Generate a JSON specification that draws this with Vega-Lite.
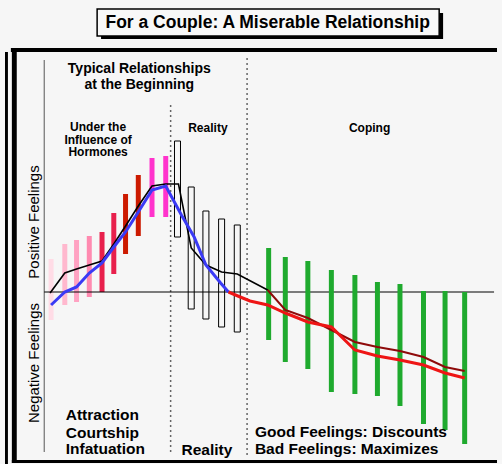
{
  "$schema": "https://vega.github.io/schema/vega-lite/v6.json",
  "width": 502,
  "height": 464,
  "autosize": "none",
  "padding": 0,
  "background": "#F6F6F6",
  "config": {"view": {"stroke": null}, "text": {"font": "Liberation Sans"}},
  "datasets": {
    "pinkBars": [
      {"t": 47, "v": 33, "v2": -28, "tone": "blush"},
      {"t": 61, "v": 48, "v2": -13, "tone": "pink"},
      {"t": 73, "v": 52, "v2": -10, "tone": "rose"},
      {"t": 86, "v": 56, "v2": -5, "tone": "salmon"},
      {"t": 99, "v": 60, "v2": 0, "tone": "crimson"},
      {"t": 111, "v": 79, "v2": 18, "tone": "crimson"},
      {"t": 123, "v": 98, "v2": 38, "tone": "scarlet"},
      {"t": 136, "v": 117, "v2": 56, "tone": "scarlet"},
      {"t": 150, "v": 134, "v2": 75, "tone": "magenta"},
      {"t": 164, "v": 136, "v2": 75, "tone": "magenta"}
    ],
    "realityBars": [
      {"t": 176, "v": 151, "v2": 55},
      {"t": 190, "v": 105, "v2": -17},
      {"t": 205, "v": 81, "v2": -27},
      {"t": 221, "v": 73, "v2": -35},
      {"t": 237, "v": 67, "v2": -40}
    ],
    "copingBars": [
      {"t": 269, "v": 44, "v2": -48},
      {"t": 286, "v": 35, "v2": -70},
      {"t": 309, "v": 31, "v2": -77},
      {"t": 333, "v": 22, "v2": -100},
      {"t": 357, "v": 17, "v2": -102},
      {"t": 380, "v": 10, "v2": -104},
      {"t": 403, "v": 8, "v2": -114},
      {"t": 427, "v": 1, "v2": -132},
      {"t": 449, "v": 1, "v2": -138},
      {"t": 469, "v": 0, "v2": -152}
    ],
    "curves": [
      {"series": "black", "t": 46, "v": -1},
      {"series": "black", "t": 61, "v": 19},
      {"series": "black", "t": 73, "v": 23},
      {"series": "black", "t": 86, "v": 27},
      {"series": "black", "t": 99, "v": 31},
      {"series": "black", "t": 111, "v": 48},
      {"series": "black", "t": 123, "v": 66},
      {"series": "black", "t": 136, "v": 86},
      {"series": "black", "t": 150, "v": 106},
      {"series": "black", "t": 164, "v": 108},
      {"series": "black", "t": 177, "v": 108},
      {"series": "black", "t": 190, "v": 44},
      {"series": "black", "t": 205, "v": 27},
      {"series": "black", "t": 221, "v": 20},
      {"series": "black", "t": 237, "v": 18},
      {"series": "black", "t": 268, "v": 2},
      {"series": "darkred", "t": 268, "v": 2},
      {"series": "darkred", "t": 286, "v": -18},
      {"series": "darkred", "t": 309, "v": -26},
      {"series": "darkred", "t": 333, "v": -38},
      {"series": "darkred", "t": 357, "v": -50},
      {"series": "darkred", "t": 380, "v": -55},
      {"series": "darkred", "t": 403, "v": -59},
      {"series": "darkred", "t": 427, "v": -65},
      {"series": "darkred", "t": 449, "v": -75},
      {"series": "darkred", "t": 469, "v": -79},
      {"series": "blue", "t": 47, "v": -13},
      {"series": "blue", "t": 61, "v": 0},
      {"series": "blue", "t": 73, "v": 5},
      {"series": "blue", "t": 86, "v": 19},
      {"series": "blue", "t": 99, "v": 29},
      {"series": "blue", "t": 111, "v": 45},
      {"series": "blue", "t": 123, "v": 60},
      {"series": "blue", "t": 136, "v": 80},
      {"series": "blue", "t": 150, "v": 102},
      {"series": "blue", "t": 164, "v": 106},
      {"series": "blue", "t": 180, "v": 77},
      {"series": "blue", "t": 193, "v": 55},
      {"series": "blue", "t": 205, "v": 27},
      {"series": "blue", "t": 220, "v": 9},
      {"series": "blue", "t": 228, "v": 0},
      {"series": "red", "t": 228, "v": 0},
      {"series": "red", "t": 240, "v": -5},
      {"series": "red", "t": 250, "v": -9},
      {"series": "red", "t": 268, "v": -13},
      {"series": "red", "t": 286, "v": -21},
      {"series": "red", "t": 309, "v": -30},
      {"series": "red", "t": 333, "v": -35},
      {"series": "red", "t": 357, "v": -58},
      {"series": "red", "t": 380, "v": -64},
      {"series": "red", "t": 403, "v": -68},
      {"series": "red", "t": 427, "v": -73},
      {"series": "red", "t": 449, "v": -81},
      {"series": "red", "t": 469, "v": -86}
    ],
    "labels": [
      {"group": "title", "t": 268, "v": 269.5, "label": "For a Couple: A Miserable Relationship"},
      {"group": "head", "t": 137, "v": 223, "label": "Typical Relationships"},
      {"group": "head", "t": 137, "v": 207, "label": "at the Beginning"},
      {"group": "phase", "t": 95, "v": 165, "label": "Under the"},
      {"group": "phase", "t": 95, "v": 152.5, "label": "Influence of"},
      {"group": "phase", "t": 95, "v": 140, "label": "Hormones"},
      {"group": "phase", "t": 207, "v": 164, "label": "Reality"},
      {"group": "phase", "t": 372, "v": 164, "label": "Coping"},
      {"group": "side", "t": 30, "v": 70, "label": "Positive Feelings"},
      {"group": "side", "t": 30, "v": -71, "label": "Negative Feelings"},
      {"group": "foot", "t": 62, "v": -123, "label": "Attraction"},
      {"group": "foot", "t": 62, "v": -141, "label": "Courtship"},
      {"group": "foot", "t": 62, "v": -157, "label": "Infatuation"},
      {"group": "foot", "t": 255, "v": -140, "label": "Good Feelings: Discounts"},
      {"group": "foot", "t": 255, "v": -157, "label": "Bad Feelings: Maximizes"},
      {"group": "footc", "t": 206, "v": -158, "label": "Reality"}
    ]
  },
  "layer": [
    {
      "data": {"values": [{}]},
      "mark": {"type": "rect", "fill": "black"},
      "encoding": {
        "x": {"datum": 98, "type": "quantitative", "scale": {"domain": [0, 502], "nice": false, "zero": false}, "axis": null},
        "x2": {"datum": 447},
        "y": {"datum": 279, "type": "quantitative", "scale": {"domain": [-172, 292], "nice": false, "zero": false}, "axis": null},
        "y2": {"datum": 253}
      }
    },
    {
      "data": {"values": [{}]},
      "mark": {"type": "rect", "fill": "#F8F8F8", "stroke": "black", "strokeWidth": 1.5},
      "encoding": {
        "x": {"datum": 94, "type": "quantitative", "scale": {"domain": [0, 502], "nice": false, "zero": false}, "axis": null},
        "x2": {"datum": 443},
        "y": {"datum": 283, "type": "quantitative", "scale": {"domain": [-172, 292], "nice": false, "zero": false}, "axis": null},
        "y2": {"datum": 256}
      }
    },
    {
      "data": {"values": [{}]},
      "mark": {"type": "rect", "fill": "black"},
      "encoding": {
        "x": {"datum": 6, "type": "quantitative", "scale": {"domain": [0, 502], "nice": false, "zero": false}, "axis": null},
        "x2": {"datum": 502},
        "y": {"datum": 244, "type": "quantitative", "scale": {"domain": [-172, 292], "nice": false, "zero": false}, "axis": null},
        "y2": {"datum": 240}
      }
    },
    {
      "data": {"values": [{}]},
      "mark": {"type": "rect", "fill": "black"},
      "encoding": {
        "x": {"datum": 7, "type": "quantitative", "scale": {"domain": [0, 502], "nice": false, "zero": false}, "axis": null},
        "x2": {"datum": 12},
        "y": {"datum": 244, "type": "quantitative", "scale": {"domain": [-172, 292], "nice": false, "zero": false}, "axis": null},
        "y2": {"datum": -171}
      }
    },
    {
      "data": {"values": [{}]},
      "mark": {"type": "rect", "fill": "black"},
      "encoding": {
        "x": {"datum": 7, "type": "quantitative", "scale": {"domain": [0, 502], "nice": false, "zero": false}, "axis": null},
        "x2": {"datum": 502},
        "y": {"datum": -168, "type": "quantitative", "scale": {"domain": [-172, 292], "nice": false, "zero": false}, "axis": null},
        "y2": {"datum": -171}
      }
    },
    {
      "data": {"values": [{}]},
      "mark": {"type": "rect", "fill": "black"},
      "encoding": {
        "x": {"datum": 0, "type": "quantitative", "scale": {"domain": [0, 502], "nice": false, "zero": false}, "axis": null},
        "x2": {"datum": 3},
        "y": {"datum": 240, "type": "quantitative", "scale": {"domain": [-172, 292], "nice": false, "zero": false}, "axis": null},
        "y2": {"datum": -172}
      }
    },
    {
      "data": {"values": [{}]},
      "mark": {"type": "rule", "stroke": "#555555", "strokeWidth": 1},
      "encoding": {
        "x": {"datum": 40, "type": "quantitative", "scale": {"domain": [0, 502], "nice": false, "zero": false}, "axis": null},
        "y": {"datum": 232, "type": "quantitative", "scale": {"domain": [-172, 292], "nice": false, "zero": false}, "axis": null},
        "y2": {"datum": -160}
      }
    },
    {
      "data": {"values": [{}]},
      "mark": {"type": "rule", "stroke": "#666666", "strokeWidth": 1.5, "strokeDash": [2, 3]},
      "encoding": {
        "x": {"datum": 169, "type": "quantitative", "scale": {"domain": [0, 502], "nice": false, "zero": false}, "axis": null},
        "y": {"datum": 187, "type": "quantitative", "scale": {"domain": [-172, 292], "nice": false, "zero": false}, "axis": null},
        "y2": {"datum": -163}
      }
    },
    {
      "data": {"values": [{}]},
      "mark": {"type": "rule", "stroke": "#666666", "strokeWidth": 1.5, "strokeDash": [2, 3]},
      "encoding": {
        "x": {"datum": 247, "type": "quantitative", "scale": {"domain": [0, 502], "nice": false, "zero": false}, "axis": null},
        "y": {"datum": 234, "type": "quantitative", "scale": {"domain": [-172, 292], "nice": false, "zero": false}, "axis": null},
        "y2": {"datum": -163}
      }
    },
    {
      "data": {"name": "pinkBars"},
      "mark": {"type": "bar", "width": 5},
      "encoding": {
        "x": {"field": "t", "type": "quantitative", "scale": {"domain": [0, 502], "nice": false, "zero": false}, "axis": null},
        "y": {"field": "v", "type": "quantitative", "scale": {"domain": [-172, 292], "nice": false, "zero": false}, "axis": null},
        "y2": {"field": "v2"},
        "color": {"field": "tone", "type": "nominal", "legend": null,
          "scale": {"domain": ["blush", "pink", "rose", "salmon", "crimson", "scarlet", "magenta"],
                    "range": ["#FFDCE6", "#FFB8CE", "#FFA2C2", "#FF8AB0", "#E8204C", "#CC1A00", "#FF33CC"]}}
      }
    },
    {
      "data": {"values": [{}]},
      "mark": {"type": "rule", "stroke": "black", "strokeWidth": 1},
      "encoding": {
        "x": {"datum": 40, "type": "quantitative", "scale": {"domain": [0, 502], "nice": false, "zero": false}, "axis": null},
        "x2": {"datum": 499},
        "y": {"datum": 0, "type": "quantitative", "scale": {"domain": [-172, 292], "nice": false, "zero": false}, "axis": null}
      }
    },
    {
      "data": {"name": "realityBars"},
      "mark": {"type": "bar", "width": 6, "fill": null, "fillOpacity": 0, "stroke": "black", "strokeWidth": 1},
      "encoding": {
        "x": {"field": "t", "type": "quantitative", "scale": {"domain": [0, 502], "nice": false, "zero": false}, "axis": null},
        "y": {"field": "v", "type": "quantitative", "scale": {"domain": [-172, 292], "nice": false, "zero": false}, "axis": null},
        "y2": {"field": "v2"}
      }
    },
    {
      "data": {"name": "copingBars"},
      "mark": {"type": "bar", "width": 5, "fill": "#1FAA2E"},
      "encoding": {
        "x": {"field": "t", "type": "quantitative", "scale": {"domain": [0, 502], "nice": false, "zero": false}, "axis": null},
        "y": {"field": "v", "type": "quantitative", "scale": {"domain": [-172, 292], "nice": false, "zero": false}, "axis": null},
        "y2": {"field": "v2"}
      }
    },
    {
      "data": {"name": "curves"},
      "transform": [{"filter": "datum.series === 'black'"}],
      "mark": {"type": "line", "stroke": "black", "strokeWidth": 1.6},
      "encoding": {
        "x": {"field": "t", "type": "quantitative", "scale": {"domain": [0, 502], "nice": false, "zero": false}, "axis": null},
        "y": {"field": "v", "type": "quantitative", "scale": {"domain": [-172, 292], "nice": false, "zero": false}, "axis": null}
      }
    },
    {
      "data": {"name": "curves"},
      "transform": [{"filter": "datum.series === 'darkred'"}],
      "mark": {"type": "line", "stroke": "#8E0A0A", "strokeWidth": 2},
      "encoding": {
        "x": {"field": "t", "type": "quantitative", "scale": {"domain": [0, 502], "nice": false, "zero": false}, "axis": null},
        "y": {"field": "v", "type": "quantitative", "scale": {"domain": [-172, 292], "nice": false, "zero": false}, "axis": null}
      }
    },
    {
      "data": {"name": "curves"},
      "transform": [{"filter": "datum.series === 'blue'"}],
      "mark": {"type": "line", "stroke": "#3A3AF5", "strokeWidth": 3},
      "encoding": {
        "x": {"field": "t", "type": "quantitative", "scale": {"domain": [0, 502], "nice": false, "zero": false}, "axis": null},
        "y": {"field": "v", "type": "quantitative", "scale": {"domain": [-172, 292], "nice": false, "zero": false}, "axis": null}
      }
    },
    {
      "data": {"name": "curves"},
      "transform": [{"filter": "datum.series === 'red'"}],
      "mark": {"type": "line", "stroke": "#EE1515", "strokeWidth": 3},
      "encoding": {
        "x": {"field": "t", "type": "quantitative", "scale": {"domain": [0, 502], "nice": false, "zero": false}, "axis": null},
        "y": {"field": "v", "type": "quantitative", "scale": {"domain": [-172, 292], "nice": false, "zero": false}, "axis": null}
      }
    },
    {
      "data": {"name": "labels"},
      "transform": [{"filter": "datum.group === 'title'"}],
      "mark": {"type": "text", "fontSize": 17.5, "fontWeight": "bold", "align": "center", "baseline": "middle", "color": "black"},
      "encoding": {
        "x": {"field": "t", "type": "quantitative", "scale": {"domain": [0, 502], "nice": false, "zero": false}, "axis": null},
        "y": {"field": "v", "type": "quantitative", "scale": {"domain": [-172, 292], "nice": false, "zero": false}, "axis": null},
        "text": {"field": "label"}
      }
    },
    {
      "data": {"name": "labels"},
      "transform": [{"filter": "datum.group === 'head'"}],
      "mark": {"type": "text", "fontSize": 14, "fontWeight": "bold", "align": "center", "baseline": "middle", "color": "black"},
      "encoding": {
        "x": {"field": "t", "type": "quantitative", "scale": {"domain": [0, 502], "nice": false, "zero": false}, "axis": null},
        "y": {"field": "v", "type": "quantitative", "scale": {"domain": [-172, 292], "nice": false, "zero": false}, "axis": null},
        "text": {"field": "label"}
      }
    },
    {
      "data": {"name": "labels"},
      "transform": [{"filter": "datum.group === 'phase'"}],
      "mark": {"type": "text", "fontSize": 12, "fontWeight": "bold", "align": "center", "baseline": "middle", "color": "black"},
      "encoding": {
        "x": {"field": "t", "type": "quantitative", "scale": {"domain": [0, 502], "nice": false, "zero": false}, "axis": null},
        "y": {"field": "v", "type": "quantitative", "scale": {"domain": [-172, 292], "nice": false, "zero": false}, "axis": null},
        "text": {"field": "label"}
      }
    },
    {
      "data": {"name": "labels"},
      "transform": [{"filter": "datum.group === 'side'"}],
      "mark": {"type": "text", "fontSize": 15, "angle": 270, "align": "center", "baseline": "middle", "color": "black"},
      "encoding": {
        "x": {"field": "t", "type": "quantitative", "scale": {"domain": [0, 502], "nice": false, "zero": false}, "axis": null},
        "y": {"field": "v", "type": "quantitative", "scale": {"domain": [-172, 292], "nice": false, "zero": false}, "axis": null},
        "text": {"field": "label"}
      }
    },
    {
      "data": {"name": "labels"},
      "transform": [{"filter": "datum.group === 'foot'"}],
      "mark": {"type": "text", "fontSize": 15.5, "fontWeight": "bold", "align": "left", "baseline": "middle", "color": "black"},
      "encoding": {
        "x": {"field": "t", "type": "quantitative", "scale": {"domain": [0, 502], "nice": false, "zero": false}, "axis": null},
        "y": {"field": "v", "type": "quantitative", "scale": {"domain": [-172, 292], "nice": false, "zero": false}, "axis": null},
        "text": {"field": "label"}
      }
    },
    {
      "data": {"name": "labels"},
      "transform": [{"filter": "datum.group === 'footc'"}],
      "mark": {"type": "text", "fontSize": 15.5, "fontWeight": "bold", "align": "center", "baseline": "middle", "color": "black"},
      "encoding": {
        "x": {"field": "t", "type": "quantitative", "scale": {"domain": [0, 502], "nice": false, "zero": false}, "axis": null},
        "y": {"field": "v", "type": "quantitative", "scale": {"domain": [-172, 292], "nice": false, "zero": false}, "axis": null},
        "text": {"field": "label"}
      }
    }
  ]
}
